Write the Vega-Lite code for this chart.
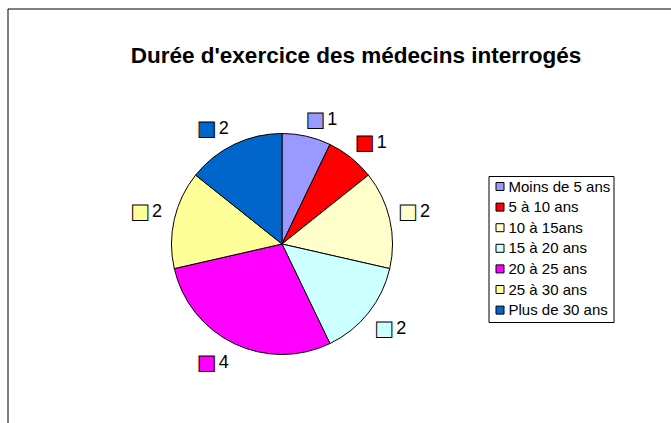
{
  "$schema": "https://vega.github.io/schema/vega-lite/v6.json",
  "autosize": {"type": "none"},
  "width": 663.5,
  "height": 414.5,
  "padding": {"left": 7.5, "top": 8.5, "right": 0, "bottom": 0},
  "background": "white",
  "view": {"stroke": "black", "strokeWidth": 1, "strokeDash": [663.5, 1078, 414.5]},
  "title": {
    "text": "Durée d'exercice des médecins interrogés",
    "font": "Liberation Sans",
    "fontSize": 22.5,
    "fontWeight": "bold",
    "color": "black",
    "anchor": "middle",
    "frame": "group",
    "offset": -76.5,
    "baseline": "alphabetic",
    "dx": 16.75
  },
  "config": {
    "view": {"stroke": "black", "strokeWidth": 1, "strokeDash": [663.5, 1078, 414.5]},
    "style": {"cell": {"stroke": "black", "strokeWidth": 1, "strokeDash": [663.5, 1078, 414.5]}}
  },
  "data": {
    "values": [
      {"tranche": "Moins de 5 ans", "valeur": 1, "ordre": 1},
      {"tranche": "5 à 10 ans", "valeur": 1, "ordre": 2},
      {"tranche": "10 à 15ans", "valeur": 2, "ordre": 3},
      {"tranche": "15 à 20 ans", "valeur": 2, "ordre": 4},
      {"tranche": "20 à 25 ans", "valeur": 4, "ordre": 5},
      {"tranche": "25 à 30 ans", "valeur": 2, "ordre": 6},
      {"tranche": "Plus de 30 ans", "valeur": 2, "ordre": 7}
    ]
  },
  "encoding": {
    "theta": {"field": "valeur", "type": "quantitative", "stack": true},
    "order": {"field": "ordre", "type": "quantitative"}
  },
  "layer": [
    {
      "mark": {"type": "arc", "outerRadius": 110.5, "stroke": "black", "strokeWidth": 1, "xOffset": -57.25, "yOffset": 28.25},
      "encoding": {
        "color": {
          "field": "tranche",
          "type": "nominal",
          "sort": null,
          "scale": {
            "domain": ["Moins de 5 ans", "5 à 10 ans", "10 à 15ans", "15 à 20 ans", "20 à 25 ans", "25 à 30 ans", "Plus de 30 ans"],
            "range": ["#9999FF", "#FF0000", "#FFFFCC", "#CCFFFF", "#FF00FF", "#FFFF99", "#0066CC"]
          },
          "legend": {
            "title": null,
            "orient": "none",
            "legendX": 481,
            "legendY": 167.5,
            "strokeColor": "black",
            "fillColor": "white",
            "padding": 3,
            "symbolType": "square",
            "symbolSize": 64,
            "symbolStrokeColor": "black",
            "symbolStrokeWidth": 1,
            "symbolOffset": 1,
            "labelOffset": 1,
            "labelFont": "Liberation Sans",
            "labelFontSize": 15,
            "labelColor": "black",
            "rowPadding": 4.6,
            "labelLimit": 0
          }
        }
      }
    },
    {
      "mark": {"type": "text", "text": "■", "radius": 123, "font": "DejaVu Sans", "fontSize": 20, "stroke": "black", "strokeWidth": 1, "xOffset": -57.25, "yOffset": 28.25, "dx": 6, "dy": -4.5, "baseline": "middle", "align": "center"},
      "encoding": {
        "color": {"field": "tranche", "type": "nominal", "sort": null, "legend": null},
        "opacity": {"condition": {"test": "datum.ordre <= 3", "value": 1}, "value": 0}
      }
    },
    {
      "mark": {"type": "text", "radius": 123, "font": "Liberation Sans", "fontSize": 18, "fill": "black", "xOffset": -57.25, "yOffset": 28.25, "dx": 23, "dy": -4.5, "baseline": "middle", "align": "center"},
      "encoding": {
        "detail": {"field": "tranche", "type": "nominal"},
        "text": {"field": "valeur", "type": "quantitative"},
        "opacity": {"condition": {"test": "datum.ordre <= 3", "value": 1}, "value": 0}
      }
    },
    {
      "mark": {"type": "text", "text": "■", "radius": 123, "font": "DejaVu Sans", "fontSize": 20, "stroke": "black", "strokeWidth": 1, "xOffset": -57.25, "yOffset": 28.25, "dx": 6, "dy": 8.5, "baseline": "middle", "align": "center"},
      "encoding": {
        "color": {"field": "tranche", "type": "nominal", "sort": null, "legend": null},
        "opacity": {"condition": {"test": "datum.ordre == 4", "value": 1}, "value": 0}
      }
    },
    {
      "mark": {"type": "text", "radius": 123, "font": "Liberation Sans", "fontSize": 18, "fill": "black", "xOffset": -57.25, "yOffset": 28.25, "dx": 23, "dy": 8.5, "baseline": "middle", "align": "center"},
      "encoding": {
        "detail": {"field": "tranche", "type": "nominal"},
        "text": {"field": "valeur", "type": "quantitative"},
        "opacity": {"condition": {"test": "datum.ordre == 4", "value": 1}, "value": 0}
      }
    },
    {
      "mark": {"type": "text", "text": "■", "radius": 123, "font": "DejaVu Sans", "fontSize": 20, "stroke": "black", "strokeWidth": 1, "xOffset": -57.25, "yOffset": 28.25, "dx": -22, "dy": 8.5, "baseline": "middle", "align": "center"},
      "encoding": {
        "color": {"field": "tranche", "type": "nominal", "sort": null, "legend": null},
        "opacity": {"condition": {"test": "datum.ordre == 5", "value": 1}, "value": 0}
      }
    },
    {
      "mark": {"type": "text", "radius": 123, "font": "Liberation Sans", "fontSize": 18, "fill": "black", "xOffset": -57.25, "yOffset": 28.25, "dx": -5, "dy": 8.5, "baseline": "middle", "align": "center"},
      "encoding": {
        "detail": {"field": "tranche", "type": "nominal"},
        "text": {"field": "valeur", "type": "quantitative"},
        "opacity": {"condition": {"test": "datum.ordre == 5", "value": 1}, "value": 0}
      }
    },
    {
      "mark": {"type": "text", "text": "■", "radius": 123, "font": "DejaVu Sans", "fontSize": 20, "stroke": "black", "strokeWidth": 1, "xOffset": -57.25, "yOffset": 28.25, "dx": -22, "dy": -4.5, "baseline": "middle", "align": "center"},
      "encoding": {
        "color": {"field": "tranche", "type": "nominal", "sort": null, "legend": null},
        "opacity": {"condition": {"test": "datum.ordre >= 6", "value": 1}, "value": 0}
      }
    },
    {
      "mark": {"type": "text", "radius": 123, "font": "Liberation Sans", "fontSize": 18, "fill": "black", "xOffset": -57.25, "yOffset": 28.25, "dx": -5, "dy": -4.5, "baseline": "middle", "align": "center"},
      "encoding": {
        "detail": {"field": "tranche", "type": "nominal"},
        "text": {"field": "valeur", "type": "quantitative"},
        "opacity": {"condition": {"test": "datum.ordre >= 6", "value": 1}, "value": 0}
      }
    }
  ]
}
